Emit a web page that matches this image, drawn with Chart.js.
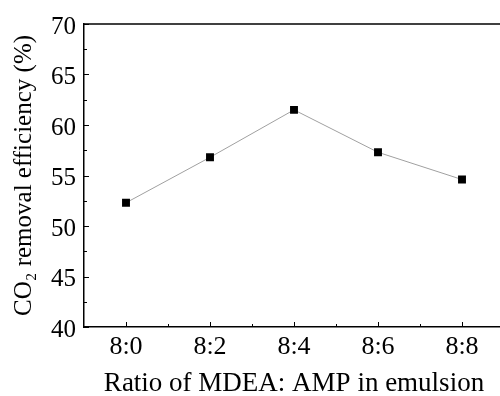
<!DOCTYPE html>
<html>
<head>
<meta charset="utf-8">
<script src="https://cdn.jsdelivr.net/npm/chart.js@4"></script>
<style>
  html, body { margin: 0; padding: 0; background: #fff; overflow: hidden; }
  #wrap { width: 510px; height: 400px; }
</style>
</head>
<body>
<div id="wrap"><canvas id="chart" width="510" height="400"></canvas></div>
<script>
const ratios = ['8:0', '8:2', '8:4', '8:6', '8:8'];
const efficiency = [52.3, 56.8, 61.5, 57.3, 54.6];
const yTicks = [40, 45, 50, 55, 60, 65, 70];

const serif = 'Liberation Serif, Times New Roman, serif';

// inward tick marks + open top frame line
const frameTicks = {
    id: 'frameTicks',
    afterDraw(chart) {
        const { ctx, chartArea: a, scales: { x, y } } = chart;
        ctx.save();
        ctx.strokeStyle = '#000';
        ctx.lineWidth = 1.5;
        ctx.beginPath();
        ctx.moveTo(a.left, a.top);
        ctx.lineTo(chart.width, a.top);
        ctx.stroke();

        ctx.lineWidth = 1;
        ctx.beginPath();
        for (let v = yTicks[0]; v <= yTicks[yTicks.length - 1]; v += 2.5) {
            const py = Math.round(y.getPixelForValue(v)) + 0.5;
            const len = v % 5 === 0 ? 5 : 3;
            ctx.moveTo(a.left, py);
            ctx.lineTo(a.left + len, py);
        }
        ratios.forEach((r, i) => {
            const px = Math.round(x.getPixelForTick(i)) + 0.5;
            ctx.moveTo(px, a.bottom);
            ctx.lineTo(px, a.bottom - 5);
            if (i < ratios.length - 1) {
                const mx = Math.round((x.getPixelForTick(i) + x.getPixelForTick(i + 1)) / 2) + 0.5;
                ctx.moveTo(mx, a.bottom);
                ctx.lineTo(mx, a.bottom - 3);
            }
        });
        ctx.stroke();
        ctx.restore();
    }
};

new Chart(document.getElementById('chart').getContext('2d'), {
    type: 'line',
    data: {
        labels: ratios,
        datasets: [{
            data: efficiency,
            borderColor: '#a0a0a0',
            borderWidth: 1,
            pointStyle: 'rect',
            pointRadius: 5.6,
            pointBackgroundColor: '#000',
            pointBorderColor: '#000',
            pointBorderWidth: 0,
            tension: 0
        }]
    },
    options: {
        responsive: false,
        animation: false,
        layout: { padding: { left: 0, top: 24, right: 6, bottom: 0 } },
        plugins: { legend: { display: false }, tooltip: { enabled: false } },
        scales: {
            x: {
                offset: true,
                grid: { display: false, drawTicks: false },
                border: { display: true, color: '#000', width: 1.5 },
                ticks: { color: '#000', padding: 5, font: { family: serif, size: 26 }, maxRotation: 0 },
                title: {
                    display: true,
                    text: 'Ratio of MDEA: AMP in emulsion',
                    color: '#000',
                    font: { family: serif, size: 27 },
                    padding: { top: 0, bottom: 0 }
                },
                afterFit: (s) => { s.height = 73; }
            },
            y: {
                min: 40,
                max: 70,
                grid: { display: false, drawTicks: false },
                border: { display: true, color: '#000', width: 1.5 },
                ticks: { color: '#000', padding: 8, labelOffset: 3, stepSize: 5, font: { family: serif, size: 25 } },
                afterBuildTicks: (s) => { s.ticks = yTicks.map(v => ({ value: v })); },
                title: {
                    display: true,
                    text: 'CO\u2082 removal efficiency (%)',
                    color: '#000',
                    font: { family: serif, size: 25 },
                    padding: { top: 9, bottom: 0 }
                },
                afterFit: (s) => { s.width = 84; }
            }
        }
    },
    plugins: [frameTicks]
});
</script>
</body>
</html>
